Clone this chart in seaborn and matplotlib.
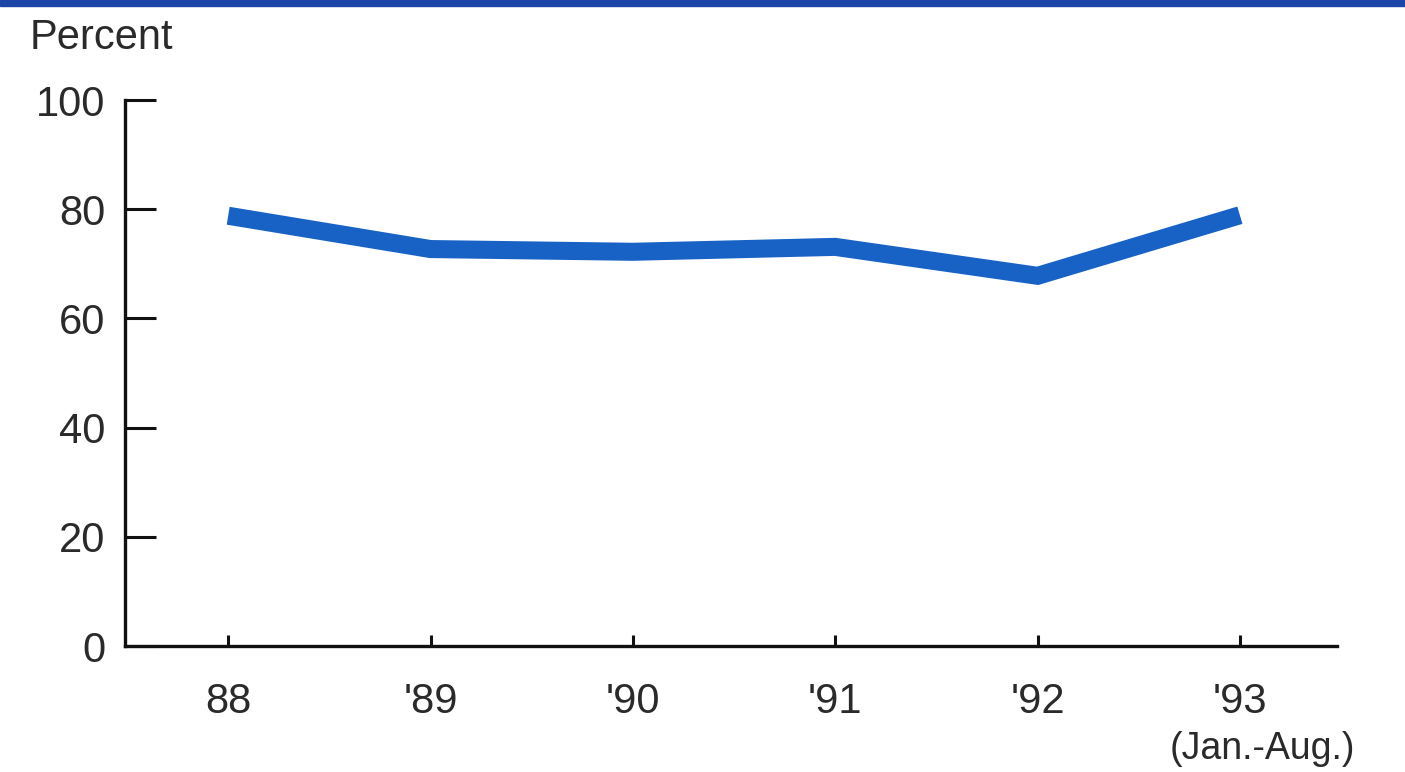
import matplotlib
matplotlib.use("Agg")
import matplotlib.pyplot as plt
import seaborn as sns
import pandas as pd
from matplotlib.patches import Rectangle

years = ["88", "'89", "'90", "'91", "'92", "'93"]
percent = [78.8, 72.7, 72.2, 73.1, 67.8, 78.9]
yticks = [0, 20, 40, 60, 80, 100]

df = pd.DataFrame({"pos": range(len(years)), "value": percent})

sns.set_style("white")
plt.rcParams['font.family'] = ['Liberation Sans', 'DejaVu Sans']

fig = plt.figure(figsize=(14.05, 7.72), dpi=100)
ax = fig.add_axes([125/1405, 1-646/772, (1337-125)/1405, (646-100)/772])

sns.lineplot(data=df, x="pos", y="value", ax=ax, color="#1862c6",
             linewidth=13, solid_joinstyle="miter", solid_capstyle="butt")

ax.set_xlim(-0.51, 5.48)
ax.set_ylim(0, 100)
ax.set_xticks(range(len(years)))
ax.set_xticklabels(years)
ax.set_yticks(yticks)
ax.set_yticklabels([str(v) for v in yticks])
ax.set_xlabel("")
ax.set_ylabel("")

for s in ["top", "right"]:
    ax.spines[s].set_visible(False)
for s in ["left", "bottom"]:
    ax.spines[s].set_linewidth(2.4)
    ax.spines[s].set_color("#111111")

ax.tick_params(axis="y", left=True, direction="in", length=22, width=2.2, color="#111111",
               labelsize=30, labelcolor="#2a2a2a", pad=14)
ax.tick_params(axis="x", bottom=True, direction="in", length=8, width=2.2, color="#111111",
               labelsize=30, labelcolor="#2a2a2a", pad=26)

fig.text(30/1405, 1-38/772, "Percent", ha="left", va="center",
         fontsize=30, color="#2a2a2a")
fig.text(1262/1405, 1-749/772, "(Jan.-Aug.)", ha="center", va="center",
         fontsize=27, color="#2a2a2a")

fig.patches.append(Rectangle((0, 1-6/772), 1, 6/772, transform=fig.transFigure,
                             color="#1d45a8", zorder=5))

fig.savefig("out.png", dpi=100, facecolor="white")
